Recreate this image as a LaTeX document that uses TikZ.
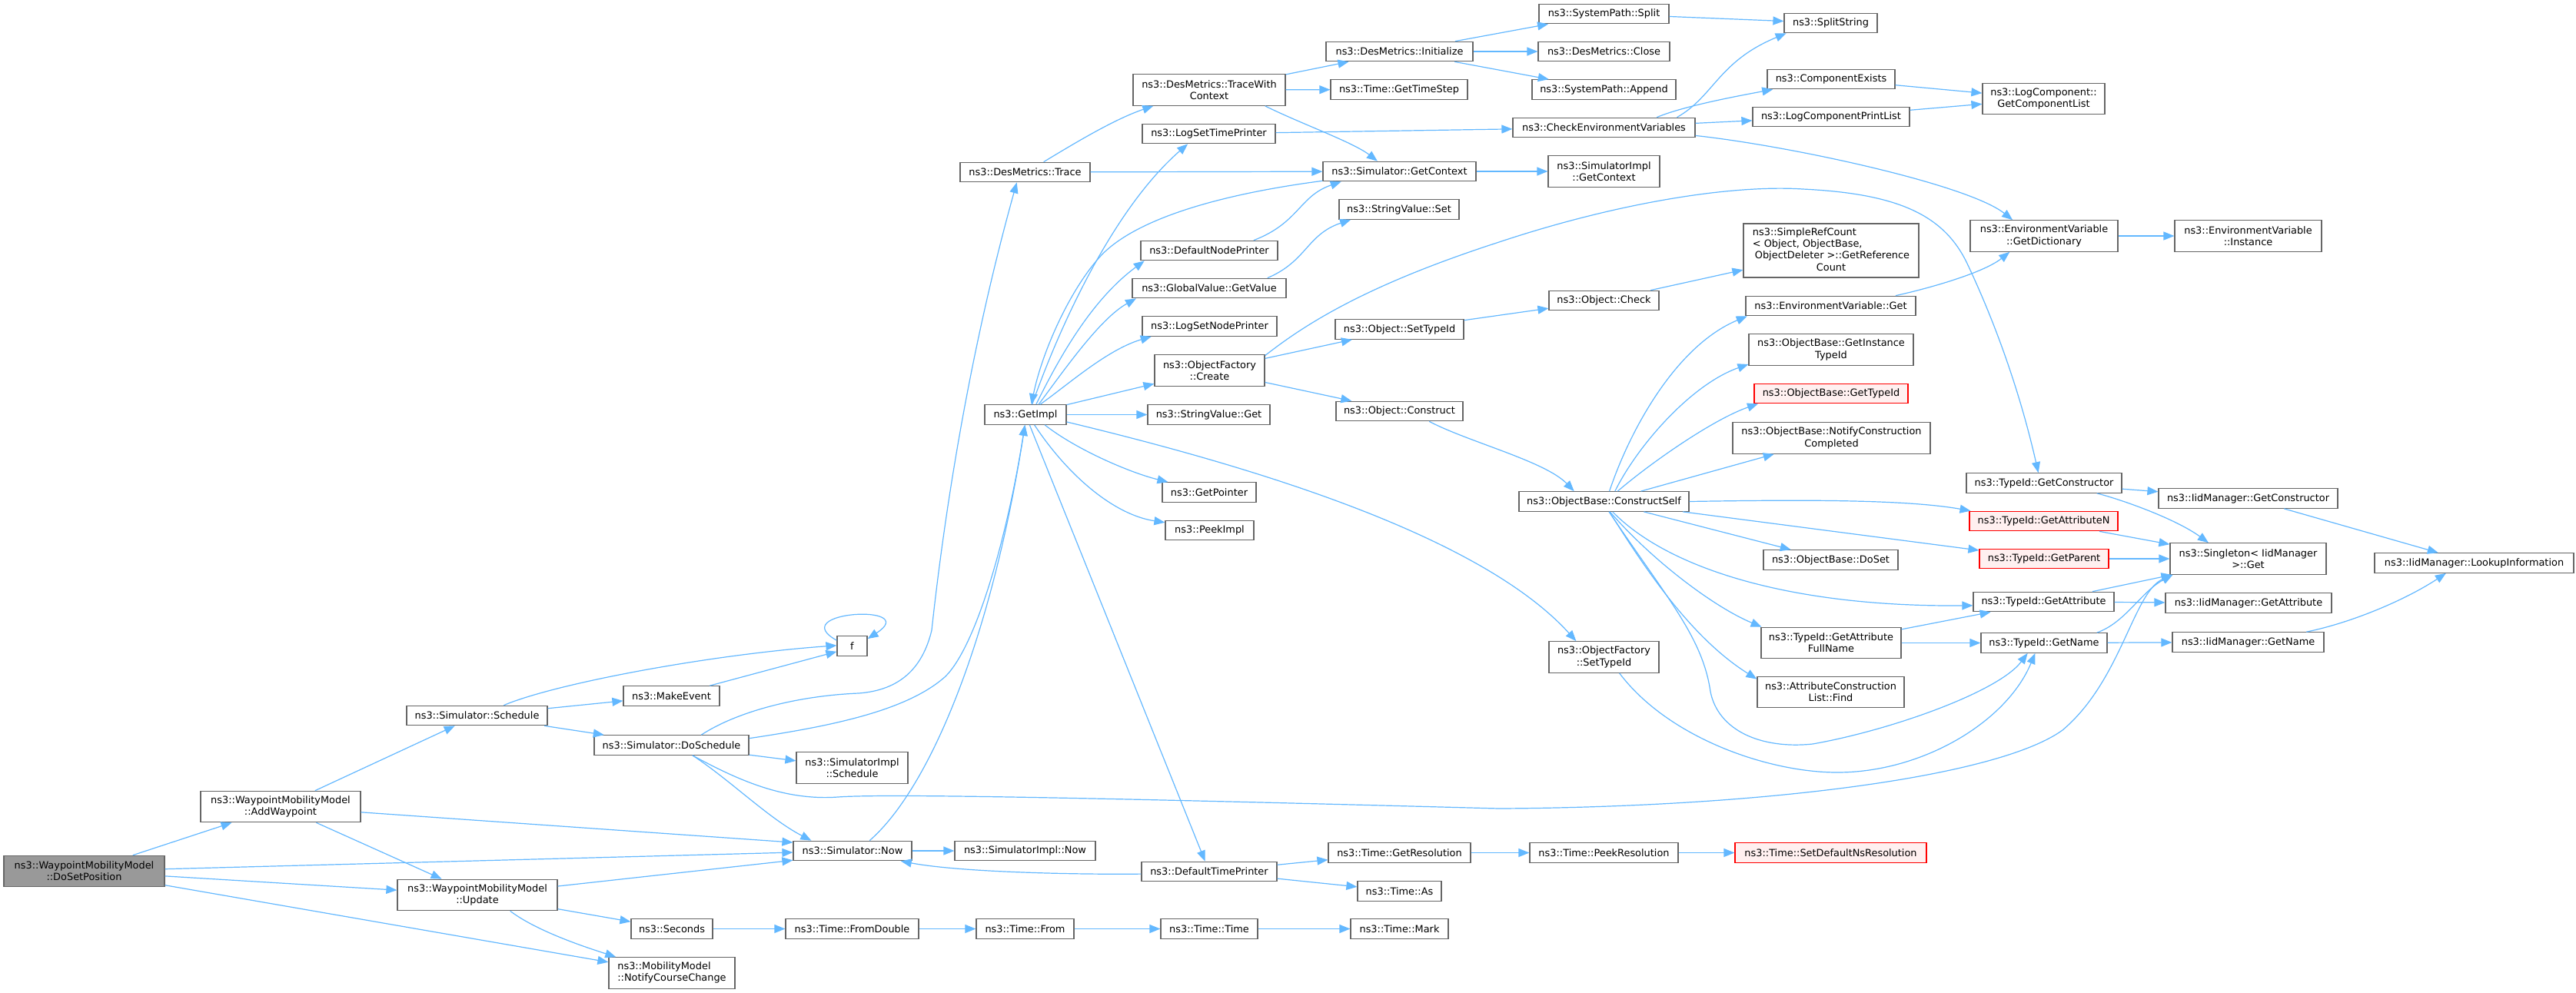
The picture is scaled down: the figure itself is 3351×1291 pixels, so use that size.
\documentclass[tikz,border=0pt]{standalone}
\usepackage{fontspec}
\setmainfont{DejaVu Sans}
\usetikzlibrary{arrows.meta}
\definecolor{edgeblue}{HTML}{63B8FF}
\definecolor{boxgray}{HTML}{666666}
\definecolor{rootfill}{HTML}{999999}
\definecolor{redfill}{HTML}{FFF0F0}
\tikzset{
  box/.style={draw=boxgray, fill=white, line width=1.2pt, inner sep=0pt, align=center,
    font=\fontsize{12.9}{15.3}\selectfont},
  rootbox/.style={box, fill=rootfill},
  redbox/.style={box, draw=red, fill=redfill},
  one/.style={minimum height=25.5pt},
  two/.style={minimum height=40.5pt},
  e/.style={draw=edgeblue, line width=1.2pt, -{Triangle[length=14pt,width=11pt]}},
}
\begin{document}
\begin{tikzpicture}[x=1pt,y=-1pt]
\fill[white] (0,0) rectangle (3351,1291);
\useasboundingbox (0,0) rectangle (3351,1291);

% column 0-3
\node[rootbox, two, minimum width=209pt] (dosetpos) at (109.5,1133.5) {ns3::WaypointMobilityModel\\::DoSetPosition};
\node[box, two, minimum width=208pt] (addwp) at (365,1049.5) {ns3::WaypointMobilityModel\\::AddWaypoint};
\node[box, two, minimum width=208pt] (update) at (621,1164.5) {ns3::WaypointMobilityModel\\::Update};
\node[box, one, minimum width=183pt] (schedule) at (620.5,931) {ns3::Simulator::Schedule};
\node[box, one, minimum width=125pt] (makeevent) at (873.5,905.5) {ns3::MakeEvent};
\node[box, one, minimum width=201pt] (doschedule) at (873.5,969.5) {ns3::Simulator::DoSchedule};
\node[box, one, minimum width=106pt] (seconds) at (874,1208.5) {ns3::Seconds};
\node[box, two, minimum width=164pt] (notify) at (874,1266) {\begin{tabular}{@{}l@{}}ns3::MobilityModel\\\multicolumn{1}{@{}c@{}}{::NotifyCourseChange}\end{tabular}};

% column 4
\node[box, one, minimum width=39pt] (f) at (1108.5,840.5) {f};
\node[box, two, minimum width=145pt] (simimplschedule) at (1108.5,999) {ns3::SimulatorImpl\\::Schedule};
\node[box, one, minimum width=154pt] (now) at (1109,1107) {ns3::Simulator::Now};
\node[box, one, minimum width=173pt] (fromdouble) at (1108.5,1208.5) {ns3::Time::FromDouble};

% column 5
\node[box, one, minimum width=169pt] (trace) at (1333.5,224) {ns3::DesMetrics::Trace};
\node[box, one, minimum width=106pt] (getimpl) at (1334,539.5) {ns3::GetImpl};
\node[box, one, minimum width=183pt] (simimplnow) at (1333.5,1107) {ns3::SimulatorImpl::Now};
\node[box, one, minimum width=127pt] (timefrom) at (1333.5,1208.5) {ns3::Time::From};

% column 6
\node[box, two, minimum width=198pt] (tracewithctx) at (1573,117) {ns3::DesMetrics::TraceWith\\Context};
\node[box, one, minimum width=173pt] (logsettimeprinter) at (1572.5,174) {ns3::LogSetTimePrinter};
\node[box, one, minimum width=178pt] (defaultnodeprinter) at (1573,326) {ns3::DefaultNodePrinter};
\node[box, one, minimum width=200pt] (globalvalue) at (1573,375) {ns3::GlobalValue::GetValue};
\node[box, one, minimum width=175pt] (logsetnodeprinter) at (1573.5,424.5) {ns3::LogSetNodePrinter};
\node[box, two, minimum width=143pt] (create) at (1573.5,482) {ns3::ObjectFactory\\::Create};
\node[box, one, minimum width=159pt] (stringvalueget) at (1572.5,539.5) {ns3::StringValue::Get};
\node[box, one, minimum width=122pt] (getpointer) at (1573,640.5) {ns3::GetPointer};
\node[box, one, minimum width=115pt] (peekimpl) at (1573.5,690) {ns3::PeekImpl};
\node[box, one, minimum width=176pt] (defaulttimeprinter) at (1573,1134) {ns3::DefaultTimePrinter};
\node[box, one, minimum width=126pt] (timetime) at (1573,1208.5) {ns3::Time::Time};

% column 7
\node[box, one, minimum width=191pt] (initialize) at (1820.5,67) {ns3::DesMetrics::Initialize};
\node[box, one, minimum width=178pt] (gettimestep) at (1820,116.5) {ns3::Time::GetTimeStep};
\node[box, one, minimum width=199pt] (getcontext) at (1820.5,223) {ns3::Simulator::GetContext};
\node[box, one, minimum width=156pt] (stringvalueset) at (1820,272.5) {ns3::StringValue::Set};
\node[box, one, minimum width=167pt] (objsettypeid) at (1820.5,428.5) {ns3::Object::SetTypeId};
\node[box, one, minimum width=165pt] (objconstruct) at (1820.5,535) {ns3::Object::Construct};
\node[box, one, minimum width=185pt] (getresolution) at (1820.5,1109.5) {ns3::Time::GetResolution};
\node[box, one, minimum width=109pt] (timeas) at (1820.5,1159.5) {ns3::Time::As};
\node[box, one, minimum width=127pt] (timemark) at (1820.5,1208.5) {ns3::Time::Mark};

% column 8
\node[box, one, minimum width=169pt] (split) at (2086.5,18) {ns3::SystemPath::Split};
\node[box, one, minimum width=171pt] (close) at (2086.5,67) {ns3::DesMetrics::Close};
\node[box, one, minimum width=187pt] (append) at (2086.5,116.5) {ns3::SystemPath::Append};
\node[box, one, minimum width=237pt] (checkenv) at (2086.5,166) {ns3::CheckEnvironmentVariables};
\node[box, two, minimum width=145pt] (simimplgetctx) at (2086.5,223) {ns3::SimulatorImpl\\::GetContext};
\node[box, one, minimum width=143pt] (objcheck) at (2086.5,391) {ns3::Object::Check};
\node[box, one, minimum width=221pt] (constructself) at (2086.5,652.5) {ns3::ObjectBase::ConstructSelf};
\node[box, two, minimum width=143pt] (objfactsettypeid) at (2086.5,855) {ns3::ObjectFactory\\::SetTypeId};
\node[box, one, minimum width=193pt] (peekresolution) at (2086.5,1109.5) {ns3::Time::PeekResolution};

% column 9
\node[box, one, minimum width=121pt] (splitstring) at (2381.5,30) {ns3::SplitString};
\node[box, one, minimum width=166pt] (componentexists) at (2382,103) {ns3::ComponentExists};
\node[box, one, minimum width=204pt] (logcompprintlist) at (2382,152) {ns3::LogComponentPrintList};
\node[box, minimum height=70pt, minimum width=228pt] (simplerefcount) at (2382,326) {\begin{tabular}{@{}l@{}}ns3::SimpleRefCount\\{}< Object, ObjectBase,\\\hspace{3pt}ObjectDeleter >::GetReference\\\multicolumn{1}{@{}c@{}}{Count}\end{tabular}};
\node[box, one, minimum width=221pt] (envget) at (2381.5,398) {ns3::EnvironmentVariable::Get};
\node[box, two, minimum width=214pt] (getinstancetypeid) at (2382,455) {ns3::ObjectBase::GetInstance\\TypeId};
\node[redbox, one, minimum width=200pt] (objbasegettypeid) at (2382,512) {ns3::ObjectBase::GetTypeId};
\node[box, two, minimum width=257pt] (notifyconstruction) at (2382.5,570) {ns3::ObjectBase::NotifyConstruction\\Completed};
\node[box, one, minimum width=175pt] (objbasedoset) at (2381.5,728.5) {ns3::ObjectBase::DoSet};
\node[box, two, minimum width=182pt] (getattrfullname) at (2382,836.5) {ns3::TypeId::GetAttribute\\FullName};
\node[box, two, minimum width=191pt] (attrconstrfind) at (2381.5,900.5) {ns3::AttributeConstruction\\List::Find};
\node[redbox, one, minimum width=249pt] (setdefaultns) at (2381.5,1109.5) {ns3::Time::SetDefaultNsResolution};

% column 10
\node[box, two, minimum width=159pt] (getcomponentlist) at (2658.5,128.5) {ns3::LogComponent::\\GetComponentList};
\node[box, two, minimum width=192pt] (getdictionary) at (2659,307) {ns3::EnvironmentVariable\\::GetDictionary};
\node[box, one, minimum width=202pt] (getconstructor) at (2659,628.5) {ns3::TypeId::GetConstructor};
\node[redbox, one, minimum width=193pt] (getattributen) at (2658.5,678) {ns3::TypeId::GetAttributeN};
\node[redbox, one, minimum width=168pt] (getparent) at (2659,727) {ns3::TypeId::GetParent};
\node[box, one, minimum width=183pt] (getattribute) at (2658.5,783) {ns3::TypeId::GetAttribute};
\node[box, one, minimum width=164pt] (getname) at (2659,836.5) {ns3::TypeId::GetName};

% column 11-12
\node[box, two, minimum width=191pt] (instance) at (2924.5,307) {ns3::EnvironmentVariable\\::Instance};
\node[box, one, minimum width=233pt] (iidgetconstructor) at (2924.5,648.5) {ns3::IidManager::GetConstructor};
\node[box, two, minimum width=203pt] (singleton) at (2924.5,727) {ns3::Singleton< IidManager\\>::Get};
\node[box, one, minimum width=216pt] (iidgetattribute) at (2925,784.5) {ns3::IidManager::GetAttribute};
\node[box, one, minimum width=197pt] (iidgetname) at (2924.5,835.5) {ns3::IidManager::GetName};
\node[box, one, minimum width=259pt] (lookup) at (3218.5,732.5) {ns3::IidManager::LookupInformation};

% ---- edges ----
\draw[e] (dosetpos) -- (addwp);
\draw[e] (dosetpos) -- (now);
\draw[e] (dosetpos) -- (update);
\draw[e] (dosetpos) -- (notify);
\draw[e] (addwp) -- (schedule);
\draw[e] (addwp) -- (now.172);
\draw[e] (addwp) -- (update);
\draw[e] (update) -- (now.189);
\draw[e] (update) -- (seconds);
\draw[e] (update.-26) .. controls (700,1213) and (770,1235) .. (notify.164);
\draw[e] (schedule) -- (makeevent);
\draw[e] (schedule) -- (doschedule);
\draw[e] (schedule.21) .. controls (720,890) and (920,852) .. (f.178);
\draw[e] (makeevent) -- (f.200);
\draw[e] (f.160) .. controls (1020,795) and (1200,785) .. (f.25);
\draw[e] (doschedule) -- (simimplschedule);
\draw[e] (doschedule.-26) .. controls (950,1015) and (1000,1065) .. (now.166);
\draw[e] (doschedule.-26) .. controls (960,1015) and (1020,1042) .. (1090,1037)
   .. controls (1160,1032) and (1500,1040) .. (1950,1052)
   .. controls (2300,1050) and (2600,1010) .. (2683,950)
   .. controls (2760,885) and (2775,770) .. (singleton.192);
\draw[e] (doschedule.5) .. controls (1080,945) and (1180,925) .. (1230,880)
   .. controls (1270,840) and (1310,700) .. (getimpl.-93);
\draw[e] (doschedule.19) .. controls (960,925) and (1040,905) .. (1117,902)
   .. controls (1170,898) and (1200,870) .. (1212,820)
   .. controls (1225,700) and (1255,480) .. (trace.-129);
\draw[e] (trace.29) .. controls (1400,185) and (1450,155) .. (tracewithctx.196);
\draw[e] (trace) -- (getcontext);
\draw[e] (tracewithctx) -- (initialize);
\draw[e] (tracewithctx) -- (gettimestep);
\draw[e] (tracewithctx.-16) .. controls (1690,160) and (1760,185) .. (getcontext.155);
\draw[e] (logsettimeprinter) -- (checkenv);
\draw[e] (initialize) -- (split);
\draw[e] (initialize) -- (close);
\draw[e] (initialize) -- (append);
\draw[e] (split) -- (splitstring);
\draw[e] (checkenv.8) .. controls (2230,125) and (2235,80) .. (splitstring.193);
\draw[e] (checkenv.11) .. controls (2190,138) and (2260,125) .. (componentexists.190);
\draw[e] (checkenv) -- (logcompprintlist);
\draw[e] (checkenv.-5) .. controls (2330,190) and (2560,240) .. (getdictionary.153);
\draw[e] (componentexists) -- (getcomponentlist);
\draw[e] (logcompprintlist) -- (getcomponentlist);
\draw[e] (getcontext) -- (simimplgetctx);
\draw[e] (getcontext.187) .. controls (1570,255) and (1470,290) .. (1430,335)
   .. controls (1390,380) and (1355,460) .. (getimpl.60);
\draw[e] (defaultnodeprinter.13) .. controls (1690,290) and (1690,255) .. (getcontext.190);
\draw[e] (globalvalue.10) .. controls (1700,340) and (1700,305) .. (stringvalueset.192);
\draw[e] (getimpl.57) .. controls (1380,420) and (1450,270) .. (logsettimeprinter.206);
\draw[e] (getimpl.44) .. controls (1378,465) and (1420,390) .. (defaultnodeprinter.189);
\draw[e] (getimpl.38) .. controls (1382,485) and (1430,415) .. (globalvalue.188);
\draw[e] (getimpl.35) .. controls (1390,500) and (1440,455) .. (logsetnodeprinter.190);
\draw[e] (getimpl) -- (create);
\draw[e] (getimpl) -- (stringvalueget);
\draw[e] (getimpl.-28) .. controls (1400,585) and (1470,615) .. (getpointer.166);
\draw[e] (getimpl.-49) .. controls (1390,620) and (1450,670) .. (peekimpl.170);
\draw[e] (getimpl) -- (defaulttimeprinter);
\draw[e] (getimpl.-10) .. controls (1600,600) and (1920,690) .. (objfactsettypeid.150);
\draw[e] (now) -- (simimplnow);
\draw[e] (now.31) .. controls (1210,1025) and (1290,830) .. (getimpl.-93);
\draw[e] (defaulttimeprinter.182) .. controls (1400,1138) and (1250,1135) .. (now.-12);
\draw[e] (defaulttimeprinter) -- (getresolution);
\draw[e] (defaulttimeprinter) -- (timeas);
\draw[e] (getresolution) -- (peekresolution);
\draw[e] (peekresolution) -- (setdefaultns);
\draw[e] (seconds) -- (fromdouble);
\draw[e] (fromdouble) -- (timefrom);
\draw[e] (timefrom) -- (timetime);
\draw[e] (timetime) -- (timemark);
\draw[e] (create) -- (objsettypeid);
\draw[e] (create) -- (objconstruct);
\draw[e] (create.15) .. controls (1700,420) and (1780,370) .. (1950,315)
   .. controls (2100,265) and (2250,240) .. (2345,246)
   .. controls (2470,252) and (2530,280) .. (2560,345)
   .. controls (2600,430) and (2630,520) .. (getconstructor.119);
\draw[e] (objsettypeid) -- (objcheck);
\draw[e] (objcheck) -- (simplerefcount);
\draw[e] (objconstruct.-19) .. controls (1910,575) and (2010,600) .. (constructself.161);
\draw[e] (constructself.62) .. controls (2120,560) and (2180,450) .. (envget.187);
\draw[e] (constructself.43) .. controls (2130,580) and (2200,500) .. (getinstancetypeid.190);
\draw[e] (constructself.37) .. controls (2150,600) and (2230,545) .. (objbasegettypeid.188);
\draw[e] (constructself) -- (notifyconstruction);
\draw[e] (constructself.east) .. controls (2350,650) and (2480,650) .. (getattributen.172);
\draw[e] (constructself) -- (getparent);
\draw[e] (constructself) -- (objbasedoset);
\draw[e] (constructself.-50) .. controls (2170,740) and (2330,790) .. (getattribute.183);
\draw[e] (constructself.-60) .. controls (2150,730) and (2230,790) .. (getattrfullname.167);
\draw[e] (constructself.-62) .. controls (2140,740) and (2200,830) .. (attrconstrfind.170);
\draw[e] (constructself.-64) .. controls (2170,780) and (2215,830) .. (2225,900)
   .. controls (2235,950) and (2290,975) .. (2358,968)
   .. controls (2460,950) and (2600,900) .. (getname.212);
\draw[e] (getattrfullname) -- (getattribute);
\draw[e] (getattrfullname) -- (getname);
\draw[e] (objfactsettypeid.-46) .. controls (2170,960) and (2300,1005) .. (2390,1005)
   .. controls (2500,1005) and (2610,940) .. (getname.229);
\draw[e] (envget.9) .. controls (2510,375) and (2580,355) .. (getdictionary.205);
\draw[e] (getdictionary) -- (instance);
\draw[e] (getconstructor) -- (iidgetconstructor);
\draw[e] (getconstructor.-11) .. controls (2760,650) and (2830,675) .. (singleton.158);
\draw[e] (getattributen) -- (singleton);
\draw[e] (getparent) -- (singleton);
\draw[e] (getattribute) -- (singleton);
\draw[e] (getattribute) -- (iidgetattribute);
\draw[e] (getname.11) .. controls (2765,810) and (2785,770) .. (singleton.192);
\draw[e] (getname) -- (iidgetname);
\draw[e] (iidgetconstructor) -- (lookup);
\draw[e] (iidgetname.10) .. controls (3060,810) and (3130,780) .. (lookup.200);
\end{tikzpicture}
\end{document}
